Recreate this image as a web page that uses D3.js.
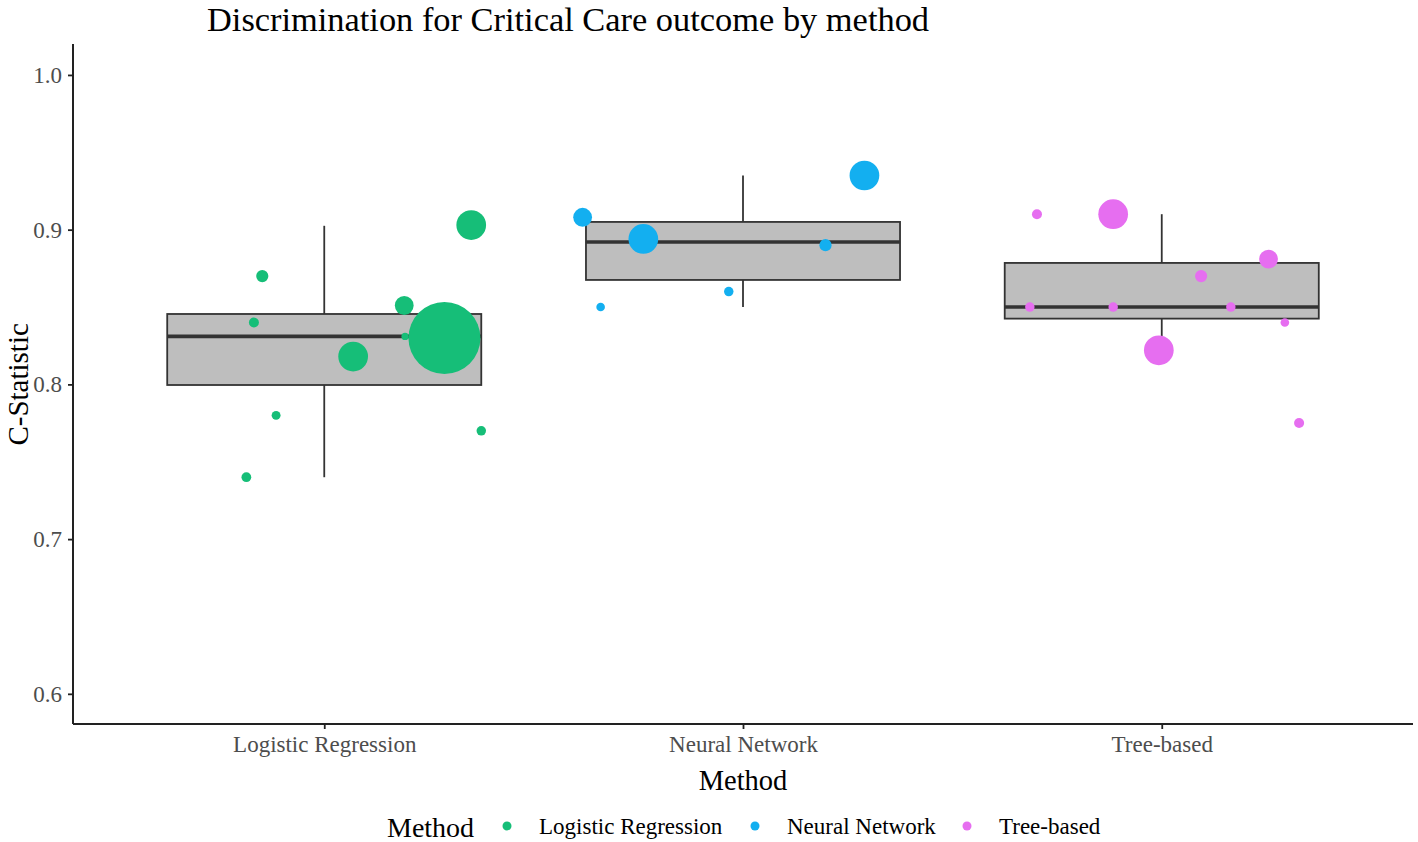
<!DOCTYPE html>
<html>
<head>
<meta charset="utf-8">
<script src="https://cdn.jsdelivr.net/npm/d3@7"></script>
<style>
  body { margin: 0; background: #fff; }
  text { font-family: "Liberation Serif", "DejaVu Serif", serif; }
</style>
</head>
<body>
<script>
var w = 1418;
var h = 842;
var margin = {top: 44, right: 5, bottom: 118, left: 73};

// categories and colours
var methods = ["Logistic Regression", "Neural Network", "Tree-based"];
var colors = ["#16BE78", "#13AFF0", "#E66EF0"];

// box stats
var boxLow = [0.740, 0.850, 0.822];
var boxQ1 = [0.7996, 0.8675, 0.8425];
var boxMed = [0.8310, 0.892, 0.850];
var boxQ3 = [0.8455, 0.905, 0.8785];
var boxHigh = [0.9025, 0.935, 0.910];

// study points: method index, c-statistic, jitter (in category units), sample weight
var ptMethod = [0,0,0,0,0,0,0,0,0,0, 1,1,1,1,1,1, 2,2,2,2,2,2,2,2,2,2];
var ptValue = [0.903, 0.870, 0.851, 0.840, 0.831, 0.830, 0.818, 0.780, 0.770, 0.740,
               0.908, 0.894, 0.935, 0.890, 0.860, 0.850,
               0.910, 0.910, 0.881, 0.870, 0.850, 0.850, 0.850, 0.840, 0.822, 0.775];
var ptJitter = [0.351, -0.148, 0.191, -0.168, 0.193, 0.287, 0.069, -0.115, 0.375, -0.186,
                -0.383, -0.238, 0.290, 0.197, -0.034, -0.340,
                -0.298, -0.116, 0.255, 0.094, -0.315, -0.116, 0.165, 0.294, -0.007, 0.328];
var ptWeight = [16.7, 2.8, 6.7, 1.9, 1.0, 98, 16.7, 1.5, 1.7, 1.8,
                6.7, 16.7, 16.7, 2.8, 1.7, 1.4,
                1.9, 16.7, 6.7, 2.8, 1.7, 1.7, 1.7, 1.4, 16.7, 1.9];

var yTicks = [0.6, 0.7, 0.8, 0.9, 1.0];

var points = ptValue.map((v, i) => ({
  method: ptMethod[i], value: v, jitter: ptJitter[i], weight: ptWeight[i]
}));

var x = d3.scalePoint()
  .domain(methods)
  .range([margin.left, w - margin.right])
  .padding(0.6);
var step = x.step();

var y = d3.scaleLinear()
  .domain([0.5805, 1.02])
  .range([h - margin.bottom, margin.top]);

var r = d3.scaleSqrt()
  .domain([0, d3.max(ptWeight)])
  .range([0, 36]);

var svg = d3.select("body").append("svg")
  .attr("width", w)
  .attr("height", h);

// boxes
var boxW = step * 0.75;
var boxes = svg.append("g").selectAll("g")
  .data(methods)
  .enter().append("g");

boxes.append("line")
  .attr("x1", d => x(d)).attr("x2", d => x(d))
  .attr("y1", (d, i) => y(boxHigh[i])).attr("y2", (d, i) => y(boxQ3[i]))
  .attr("stroke", "#333").attr("stroke-width", 1.8);
boxes.append("line")
  .attr("x1", d => x(d)).attr("x2", d => x(d))
  .attr("y1", (d, i) => y(boxQ1[i])).attr("y2", (d, i) => y(boxLow[i]))
  .attr("stroke", "#333").attr("stroke-width", 1.8);
boxes.append("rect")
  .attr("x", d => x(d) - boxW / 2)
  .attr("width", boxW)
  .attr("y", (d, i) => y(boxQ3[i]))
  .attr("height", (d, i) => y(boxQ1[i]) - y(boxQ3[i]))
  .attr("fill", "#BEBEBE")
  .attr("stroke", "#333").attr("stroke-width", 1.8);
boxes.append("line")
  .attr("x1", d => x(d) - boxW / 2).attr("x2", d => x(d) + boxW / 2)
  .attr("y1", (d, i) => y(boxMed[i])).attr("y2", (d, i) => y(boxMed[i]))
  .attr("stroke", "#333").attr("stroke-width", 3.6);

// points
svg.append("g").selectAll("circle")
  .data(points)
  .enter().append("circle")
  .attr("cx", d => x(methods[d.method]) + d.jitter * step)
  .attr("cy", d => y(d.value))
  .attr("r", d => r(d.weight))
  .attr("fill", d => colors[d.method]);

// axes
var yAxis = svg.append("g")
  .attr("transform", "translate(" + margin.left + ",0)")
  .call(d3.axisLeft(y).tickValues(yTicks).tickFormat(d3.format(".1f")).tickSize(5).tickPadding(6));
var xAxis = svg.append("g")
  .attr("transform", "translate(0," + (h - margin.bottom) + ")")
  .call(d3.axisBottom(x).tickSize(5).tickPadding(7));

[yAxis, xAxis].forEach(a => {
  a.select(".domain").attr("stroke", "#222").attr("stroke-width", 2);
  a.selectAll(".tick line").attr("stroke", "#222").attr("stroke-width", 1.8);
  a.selectAll(".tick text")
    .attr("fill", "#4D4D4D")
    .style("font-size", "23px")
    .style("font-family", "'Liberation Serif', serif");
});
// straight domain lines, no outer ticks
yAxis.select(".domain").attr("d", "M0," + margin.top + "V" + (h - margin.bottom));
xAxis.select(".domain").attr("d", "M" + margin.left + ",0H" + (w - margin.right));

// titles
svg.append("text")
  .attr("x", 207).attr("y", 31)
  .style("font-size", "34.4px")
  .text("Discrimination for Critical Care outcome by method");

svg.append("text")
  .attr("transform", "translate(28," + y(0.8) + ") rotate(-90)")
  .attr("text-anchor", "middle")
  .style("font-size", "29px")
  .text("C-Statistic");

svg.append("text")
  .attr("x", x(methods[1])).attr("y", 790)
  .attr("text-anchor", "middle")
  .style("font-size", "28.5px")
  .text("Method");

// legend
var legend = svg.append("g").attr("transform", "translate(0,827)");
legend.append("text")
  .attr("x", 387).attr("y", 10)
  .style("font-size", "28px")
  .text("Method");
var legX = [507, 755, 967];
var items = legend.selectAll(".item")
  .data(methods)
  .enter().append("g")
  .attr("transform", (d, i) => "translate(" + legX[i] + ",0)");
items.append("circle")
  .attr("r", 4.5)
  .attr("cy", -1)
  .attr("fill", (d, i) => colors[i]);
items.append("text")
  .attr("x", 32).attr("y", 7)
  .style("font-size", "23px")
  .text(d => d);
</script>
</body>
</html>
